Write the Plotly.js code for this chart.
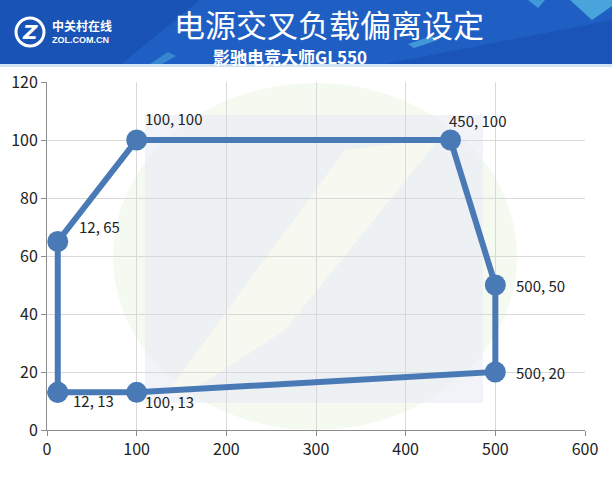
<!DOCTYPE html>
<html>
<head>
<meta charset="utf-8">
<script src="https://cdn.plot.ly/plotly-3.0.1.min.js"></script>
<style>html,body{margin:0;padding:0;background:#fff;}#chart{width:612px;height:478px;}</style>
</head>
<body>
<div id="chart"></div>
<script>
// ---- data ----
const xValues = [12, 12, 100, 450, 500, 500, 100, 12];
const yValues = [13, 65, 100, 100, 50, 20, 13, 13];
const pointLabels = ["12, 13", "12, 65", "100, 100", "450, 100", "500, 50", "500, 20", "100, 13", ""];
const chartTitle = "电源交叉负载偏离设定";
const chartSubtitle = "影驰电竞大师GL550";
const xTicks = [0, 100, 200, 300, 400, 500, 600];
const yTicks = [0, 20, 40, 60, 80, 100, 120];

// ---- style ----
const labelShift = [[13, -8], [19, 15], [6, 22], [-4, 20], [19, 0], [19, 0], [6, -9], [0, 0]];
const L = 47, R = 27, T = 82, B = 48, W = 612, H = 478;
const pw = W - L - R, ph = H - T - B;
const px = v => (v - L) / pw;
const py = v => (H - B - v) / ph;
const FONT = "Noto Sans CJK SC, Microsoft YaHei, sans-serif";
const lineColor = "#4a7ab6";

const shapes = [];
function pathPx(pts) {
  return 'M' + pts.map(p => px(p[0]) + ',' + py(p[1])).join(' L') + ' Z';
}
// banner
shapes.push({type: 'rect', xref: 'paper', yref: 'paper', x0: px(0), x1: px(W), y0: py(65), y1: py(0), fillcolor: '#1f5fc4', line: {width: 0}, layer: 'below'});
shapes.push({type: 'path', xref: 'paper', yref: 'paper', path: pathPx([[0,0],[200,0],[120,65],[0,65]]), fillcolor: 'rgba(12,55,150,0.30)', line: {width: 0}, layer: 'below'});
shapes.push({type: 'path', xref: 'paper', yref: 'paper', path: pathPx([[380,65],[612,20],[612,65]]), fillcolor: 'rgba(10,50,150,0.25)', line: {width: 0}, layer: 'below'});
shapes.push({type: 'rect', xref: 'paper', yref: 'paper', x0: px(0), x1: px(W), y0: py(67), y1: py(64), fillcolor: '#cfe3f3', line: {width: 0}, layer: 'below'});
// streaks
shapes.push({type: 'path', xref: 'paper', yref: 'paper', path: pathPx([[570,0],[612,0],[612,6],[592,20]]), fillcolor: 'rgba(100,210,235,0.6)', line: {width: 0}, layer: 'below'});
shapes.push({type: 'path', xref: 'paper', yref: 'paper', path: pathPx([[528,0],[545,0],[538,8]]), fillcolor: 'rgba(100,210,235,0.5)', line: {width: 0}, layer: 'below'});
shapes.push({type: 'path', xref: 'paper', yref: 'paper', path: pathPx([[408,44],[432,36],[438,40],[414,48]]), fillcolor: 'rgba(100,210,235,0.5)', line: {width: 0}, layer: 'below'});
shapes.push({type: 'path', xref: 'paper', yref: 'paper', path: pathPx([[150,64],[168,52],[176,56],[162,64]]), fillcolor: 'rgba(100,210,235,0.35)', line: {width: 0}, layer: 'below'});
// logo arcs
shapes.push({type: 'circle', xref: 'paper', yref: 'paper', x0: px(16), x1: px(44), y0: py(46), y1: py(18), fillcolor: 'rgba(0,0,0,0)', line: {color: '#ffffff', width: 3}, layer: 'above'});
// watermark
shapes.push({type: 'circle', xref: 'paper', yref: 'paper', x0: px(113), x1: px(517), y0: py(430), y1: py(83), fillcolor: 'rgba(238,246,232,0.6)', line: {width: 0}, layer: 'below'});
shapes.push({type: 'path', xref: 'paper', yref: 'paper', path: pathPx([[145,115],[483,115],[483,403],[145,403]]), fillcolor: 'rgba(232,235,245,0.6)', line: {width: 0}, layer: 'below'});
shapes.push({type: 'path', xref: 'paper', yref: 'paper', path: pathPx([[345,150],[440,138],[285,330],[185,395],[165,395]]), fillcolor: 'rgba(250,250,238,0.75)', line: {width: 0}, layer: 'below'});

const annotations = [];
for (let i = 0; i < xValues.length; i++) {
  if (!pointLabels[i]) continue;
  annotations.push({x: xValues[i], y: yValues[i], xref: 'x', yref: 'y', text: pointLabels[i], showarrow: false,
    xanchor: 'left', yanchor: 'middle', xshift: labelShift[i][0], yshift: labelShift[i][1],
    font: {family: FONT, size: 15, color: '#222222'}});
}
annotations.push({xref: 'paper', yref: 'paper', x: px(329), y: py(23), text: chartTitle, showarrow: false,
  xanchor: 'center', yanchor: 'middle', borderpad: 0, font: {family: FONT, size: 31, color: '#ffffff'}});
annotations.push({xref: 'paper', yref: 'paper', x: px(290), y: py(56), text: '<b>' + chartSubtitle + '</b>', showarrow: false,
  xanchor: 'center', yanchor: 'middle', borderpad: 0, font: {family: FONT, size: 17, color: '#ffffff'}});
annotations.push({xref: 'paper', yref: 'paper', x: px(30), y: py(32), text: '<b><i>Z</i></b>', showarrow: false,
  xanchor: 'center', yanchor: 'middle', borderpad: 0, font: {family: 'DejaVu Sans, sans-serif', size: 20, color: '#ffffff'}});
annotations.push({xref: 'paper', yref: 'paper', x: px(51), y: py(25), text: '<b>中关村在线</b>', showarrow: false,
  xanchor: 'left', yanchor: 'middle', borderpad: 0, font: {family: FONT, size: 12, color: '#ffffff'}});
annotations.push({xref: 'paper', yref: 'paper', x: px(51), y: py(40), text: '<b>ZOL.COM.CN</b>', showarrow: false,
  xanchor: 'left', yanchor: 'middle', borderpad: 0, font: {family: 'Liberation Sans, Arial, sans-serif', size: 9, color: '#ffffff'}});

const trace = {
  x: xValues, y: yValues, type: 'scatter', mode: 'lines+markers',
  line: {color: lineColor, width: 6},
  marker: {color: lineColor, size: 21},
  hoverinfo: 'skip', cliponaxis: false
};

const axisCommon = {
  showline: true, linecolor: '#8c8c8c', linewidth: 1,
  ticks: 'outside', ticklen: 5, tickcolor: '#8c8c8c',
  gridcolor: '#d9d9d9', gridwidth: 1, zeroline: false,
  tickfont: {family: FONT, size: 16, color: '#222222'}
};

const layout = {
  width: W, height: H,
  margin: {l: L, r: R, t: T, b: B, pad: 0},
  paper_bgcolor: '#ffffff', plot_bgcolor: 'rgba(0,0,0,0)',
  showlegend: false,
  xaxis: Object.assign({}, axisCommon, {range: [0, 600], tickvals: xTicks, ticktext: xTicks.map(String)}),
  yaxis: Object.assign({}, axisCommon, {range: [0, 120], tickvals: yTicks, ticktext: yTicks.map(String)}),
  shapes: shapes,
  annotations: annotations
};

Plotly.newPlot('chart', [trace], layout, {displayModeBar: false, staticPlot: true});
</script>
</body>
</html>
